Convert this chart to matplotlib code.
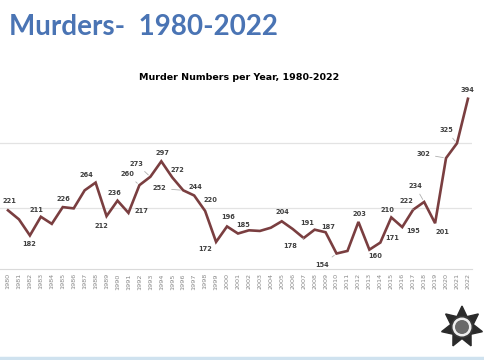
import matplotlib
matplotlib.use('Agg')
import matplotlib.pyplot as plt
import numpy as np
from matplotlib.patches import Polygon, Circle

# ---- data ----
years = list(range(1980, 2023))
murders = [221, 207, 182, 211, 200, 226, 224, 252, 264, 212,
           236, 217, 260, 273, 297, 272, 252, 244, 220, 172,
           196, 185, 190, 189, 194, 204, 192, 178, 191, 187,
           154, 158, 203, 160, 171, 210, 195, 222, 234, 201,
           302, 325, 394]
labeled_years = [1980, 1982, 1983, 1985, 1988, 1989, 1990, 1991, 1992, 1993,
                 1994, 1995, 1996, 1997, 1998, 1999, 2000, 2001, 2005, 2007,
                 2008, 2009, 2010, 2012, 2013, 2014, 2015, 2016, 2017, 2018,
                 2019, 2020, 2021, 2022]
# label offsets in pixels (dx, dy up-positive) and whether a leader line is drawn
label_offsets = {
    1980: (1, 9, False), 1982: (-1, -9, False), 1983: (-4, 7, False),
    1985: (1, 8, False), 1988: (-9, 8, False), 1989: (-5, -10, False),
    1990: (-3, 8, False), 1991: (13, 2, False), 1992: (-12, 11, True),
    1993: (-14, 13, True), 1994: (1, 8, False), 1995: (5, 7, False),
    1996: (-24, 2, True), 1997: (1, 8, False), 1998: (5, 11, False),
    1999: (-11, -7, False), 2000: (1, 9, False), 2001: (5, 9, False),
    2005: (1, 9, False), 2007: (-13, -8, True), 2008: (-7, 7, False),
    2009: (3, 5, False), 2010: (-14, -11, True), 2012: (1, 8, False),
    2013: (6, -6, False), 2014: (12, 5, False), 2015: (-4, 7, False),
    2016: (11, -4, False), 2017: (-7, 9, True), 2018: (-9, 16, True),
    2019: (7, -9, False), 2020: (-23, 4, True), 2021: (-11, 13, True),
    2022: (0, 9, False),
}

line_color = '#7a3e40'
label_color = '#404040'

fig = plt.figure(figsize=(4.85, 3.6), dpi=100)
fig.patch.set_facecolor('white')

# slide title
fig.text(9 / 485, 1 - 27 / 360, 'Murders-  1980-2022', fontsize=20,
         family='Lato', fontweight='bold', color='#4a74b4', va='center', ha='left')

# chart title
fig.text(239 / 485, 1 - 77 / 360, 'Murder Numbers per Year, 1980-2022',
         fontsize=6.8, fontweight='bold', color='black', ha='center', va='center')

ax = fig.add_axes([0.0, 91 / 360, 472 / 485, 187 / 360])
ax.plot(years, murders, color=line_color, lw=1.9, solid_joinstyle='miter', zorder=3)

ax.set_xlim(1979.27, 2022.37)
ax.set_ylim(130, 420)
ax.set_yticks([225, 325])
ax.yaxis.grid(True, color='#e3e3e3', lw=0.9)
ax.set_axisbelow(True)
ax.tick_params(axis='y', left=False, labelleft=False)
for s in ['top', 'right', 'left']:
    ax.spines[s].set_visible(False)
ax.spines['bottom'].set_color('#dadada')
ax.spines['bottom'].set_linewidth(0.8)

ax.set_xticks(years)
ax.set_xticklabels([str(y) for y in years], rotation=90, fontsize=4.6, color='#888888')
ax.tick_params(axis='x', length=0, pad=3)

for yr in labeled_years:
    v = murders[years.index(yr)]
    dx, dy, leader = label_offsets[yr]
    kw = {}
    if leader:
        kw['arrowprops'] = dict(arrowstyle='-', color='#b0b0b0', lw=0.6,
                                shrinkA=2, shrinkB=2)
    ax.annotate(str(v), (yr, v), xytext=(dx, dy), textcoords='offset pixels',
                ha='center', va='center', fontsize=4.8, fontweight='bold',
                color=label_color, zorder=4, **kw)

# badge logo
lax = fig.add_axes([440 / 485, 1 - 350 / 360, 44 / 485, 46 / 360])
lax.set_xlim(-1.05, 1.05)
lax.set_ylim(-1.05, 1.05)
lax.set_aspect('equal')
lax.axis('off')
ang = np.pi / 2 + np.arange(14) * np.pi / 7
rad = np.where(np.arange(14) % 2 == 0, 1.0, 0.55)
lax.add_patch(Polygon(np.c_[rad * np.cos(ang), rad * np.sin(ang)], closed=True,
                      color='#2b2b2b'))
lax.add_patch(Circle((0, 0), 0.5, color='#3a3a3a'))
lax.add_patch(Circle((0, 0), 0.42, color='#f0f0f0'))
lax.add_patch(Circle((0, 0), 0.3, color='#6a6a6a'))

# bottom slide border
fig.add_artist(plt.Line2D([0, 1], [2 / 360, 2 / 360], color='#cfe2ef', lw=2.5))

plt.savefig('out.png', dpi=100)
plt.close()
